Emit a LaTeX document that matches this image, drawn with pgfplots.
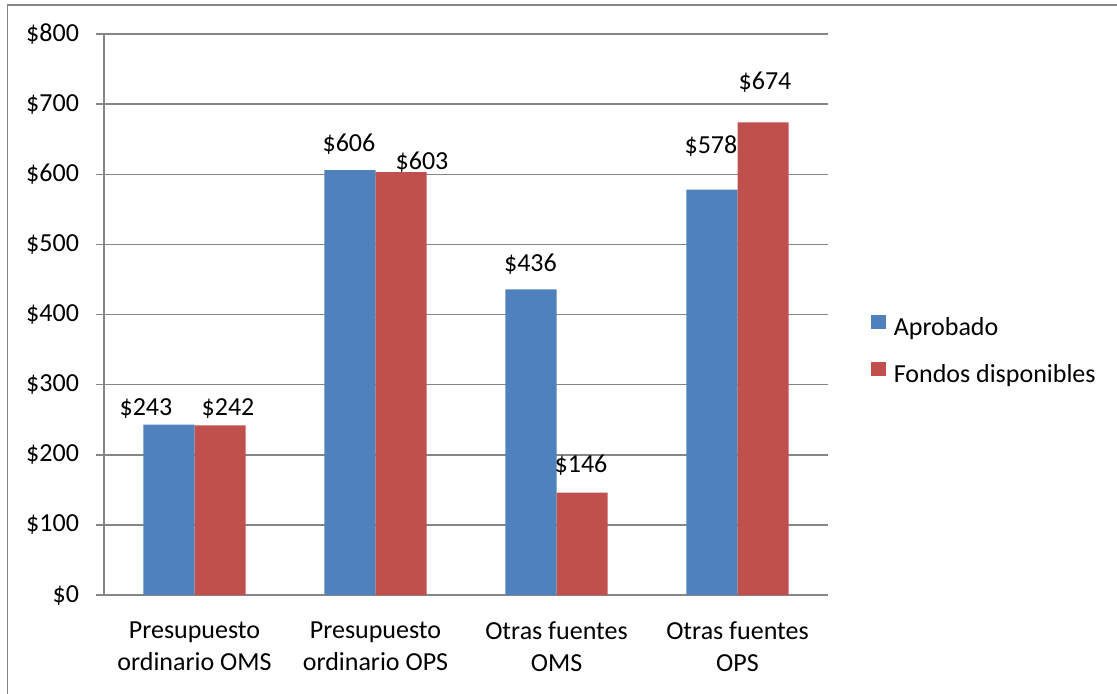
\documentclass[border=0pt]{standalone}
\usepackage{pgfplots}
\pgfplotsset{compat=1.18}
\usepackage{pgfplotstable}
\usepackage{fontspec}
\setmainfont{Carlito}
\definecolor{xlblue}{HTML}{4F81BD}
\definecolor{xlred}{HTML}{C0504D}
\definecolor{xlgray}{HTML}{868686}
\pgfplotstableread{
x y dx dy
0 243 -11.5 8
1 606 -0.5 13
2 436 -0.25 12.5
3 578 -0.5 22
}\aprob
\pgfplotstableread{
x y dx dy
0 242 4 8.3
1 603 10.5 5
2 146 -0.5 13.5
3 674 1 20
}\fondos
\begin{document}
\begin{tikzpicture}
\useasboundingbox (0,0) rectangle (558.5pt,346.5pt);
\draw[xlgray, line width=0.75pt] (3.7pt,-2pt) -- (3.7pt,344pt) -- (560pt,344pt);
\begin{axis}[
  at={(52pt,49pt)}, anchor=south west,
  scale only axis, width=362pt, height=280.5pt,
  font=\fontsize{13}{16}\selectfont,
  xmin=-0.5, xmax=3.5, ymin=0, ymax=800,
  ytick distance=100,
  axis x line*=bottom, axis y line*=left,
  axis line style={xlgray, line width=0.75pt},
  every tick/.style={xlgray, line width=0.75pt},
  tick align=outside,
  major tick length=4pt, minor tick length=4pt,
  ymajorgrids, grid style={xlgray, line width=0.75pt},
  xtick={0,1,2,3},
  x tick style={draw=none},
  minor xtick={-0.5,0.5,1.5,2.5,3.5},
  minor x tick style={xlgray, line width=0.75pt},
  xticklabels={Presupuesto\\ordinario OMS, Presupuesto\\ordinario OPS, Otras fuentes\\OMS, Otras fuentes\\OPS},
  xticklabel style={align=center, font=\fontsize{13}{16}\selectfont, yshift=-6pt},
  /pgf/number format/assume math mode=true,
  yticklabel={\$\pgfmathprintnumber{\tick}},
  yticklabel style={xshift=-5pt},
  ybar=0pt, bar width=0.282,
  nodes near coords={\$\pgfmathprintnumber{\pgfplotspointmeta}},
  point meta=y,
  visualization depends on={\thisrow{dx} \as \ldx},
  visualization depends on={\thisrow{dy} \as \ldy},
  every node near coord/.append style={anchor=center, xshift=\ldx pt, yshift=\ldy pt, font=\fontsize{13}{16}\selectfont, text=black},
  legend style={at={(1.0594,0.434)}, anchor=west, draw=none, fill=none,
    font=\fontsize{13}{16}\selectfont, row sep=10.5pt, inner xsep=0pt,
    nodes={text height=9pt, text depth=3pt, inner ysep=0pt, inner xsep=4pt}},
  legend cell align=left,
  legend image code/.code={\fill[#1] (0pt,0pt) rectangle (7.2pt,7.2pt);},
]
\addplot[fill=xlblue, draw=none] table[x=x, y=y] {\aprob};
\addplot[fill=xlred, draw=none] table[x=x, y=y] {\fondos};
\legend{Aprobado, Fondos disponibles}
\end{axis}
\end{tikzpicture}
\end{document}
